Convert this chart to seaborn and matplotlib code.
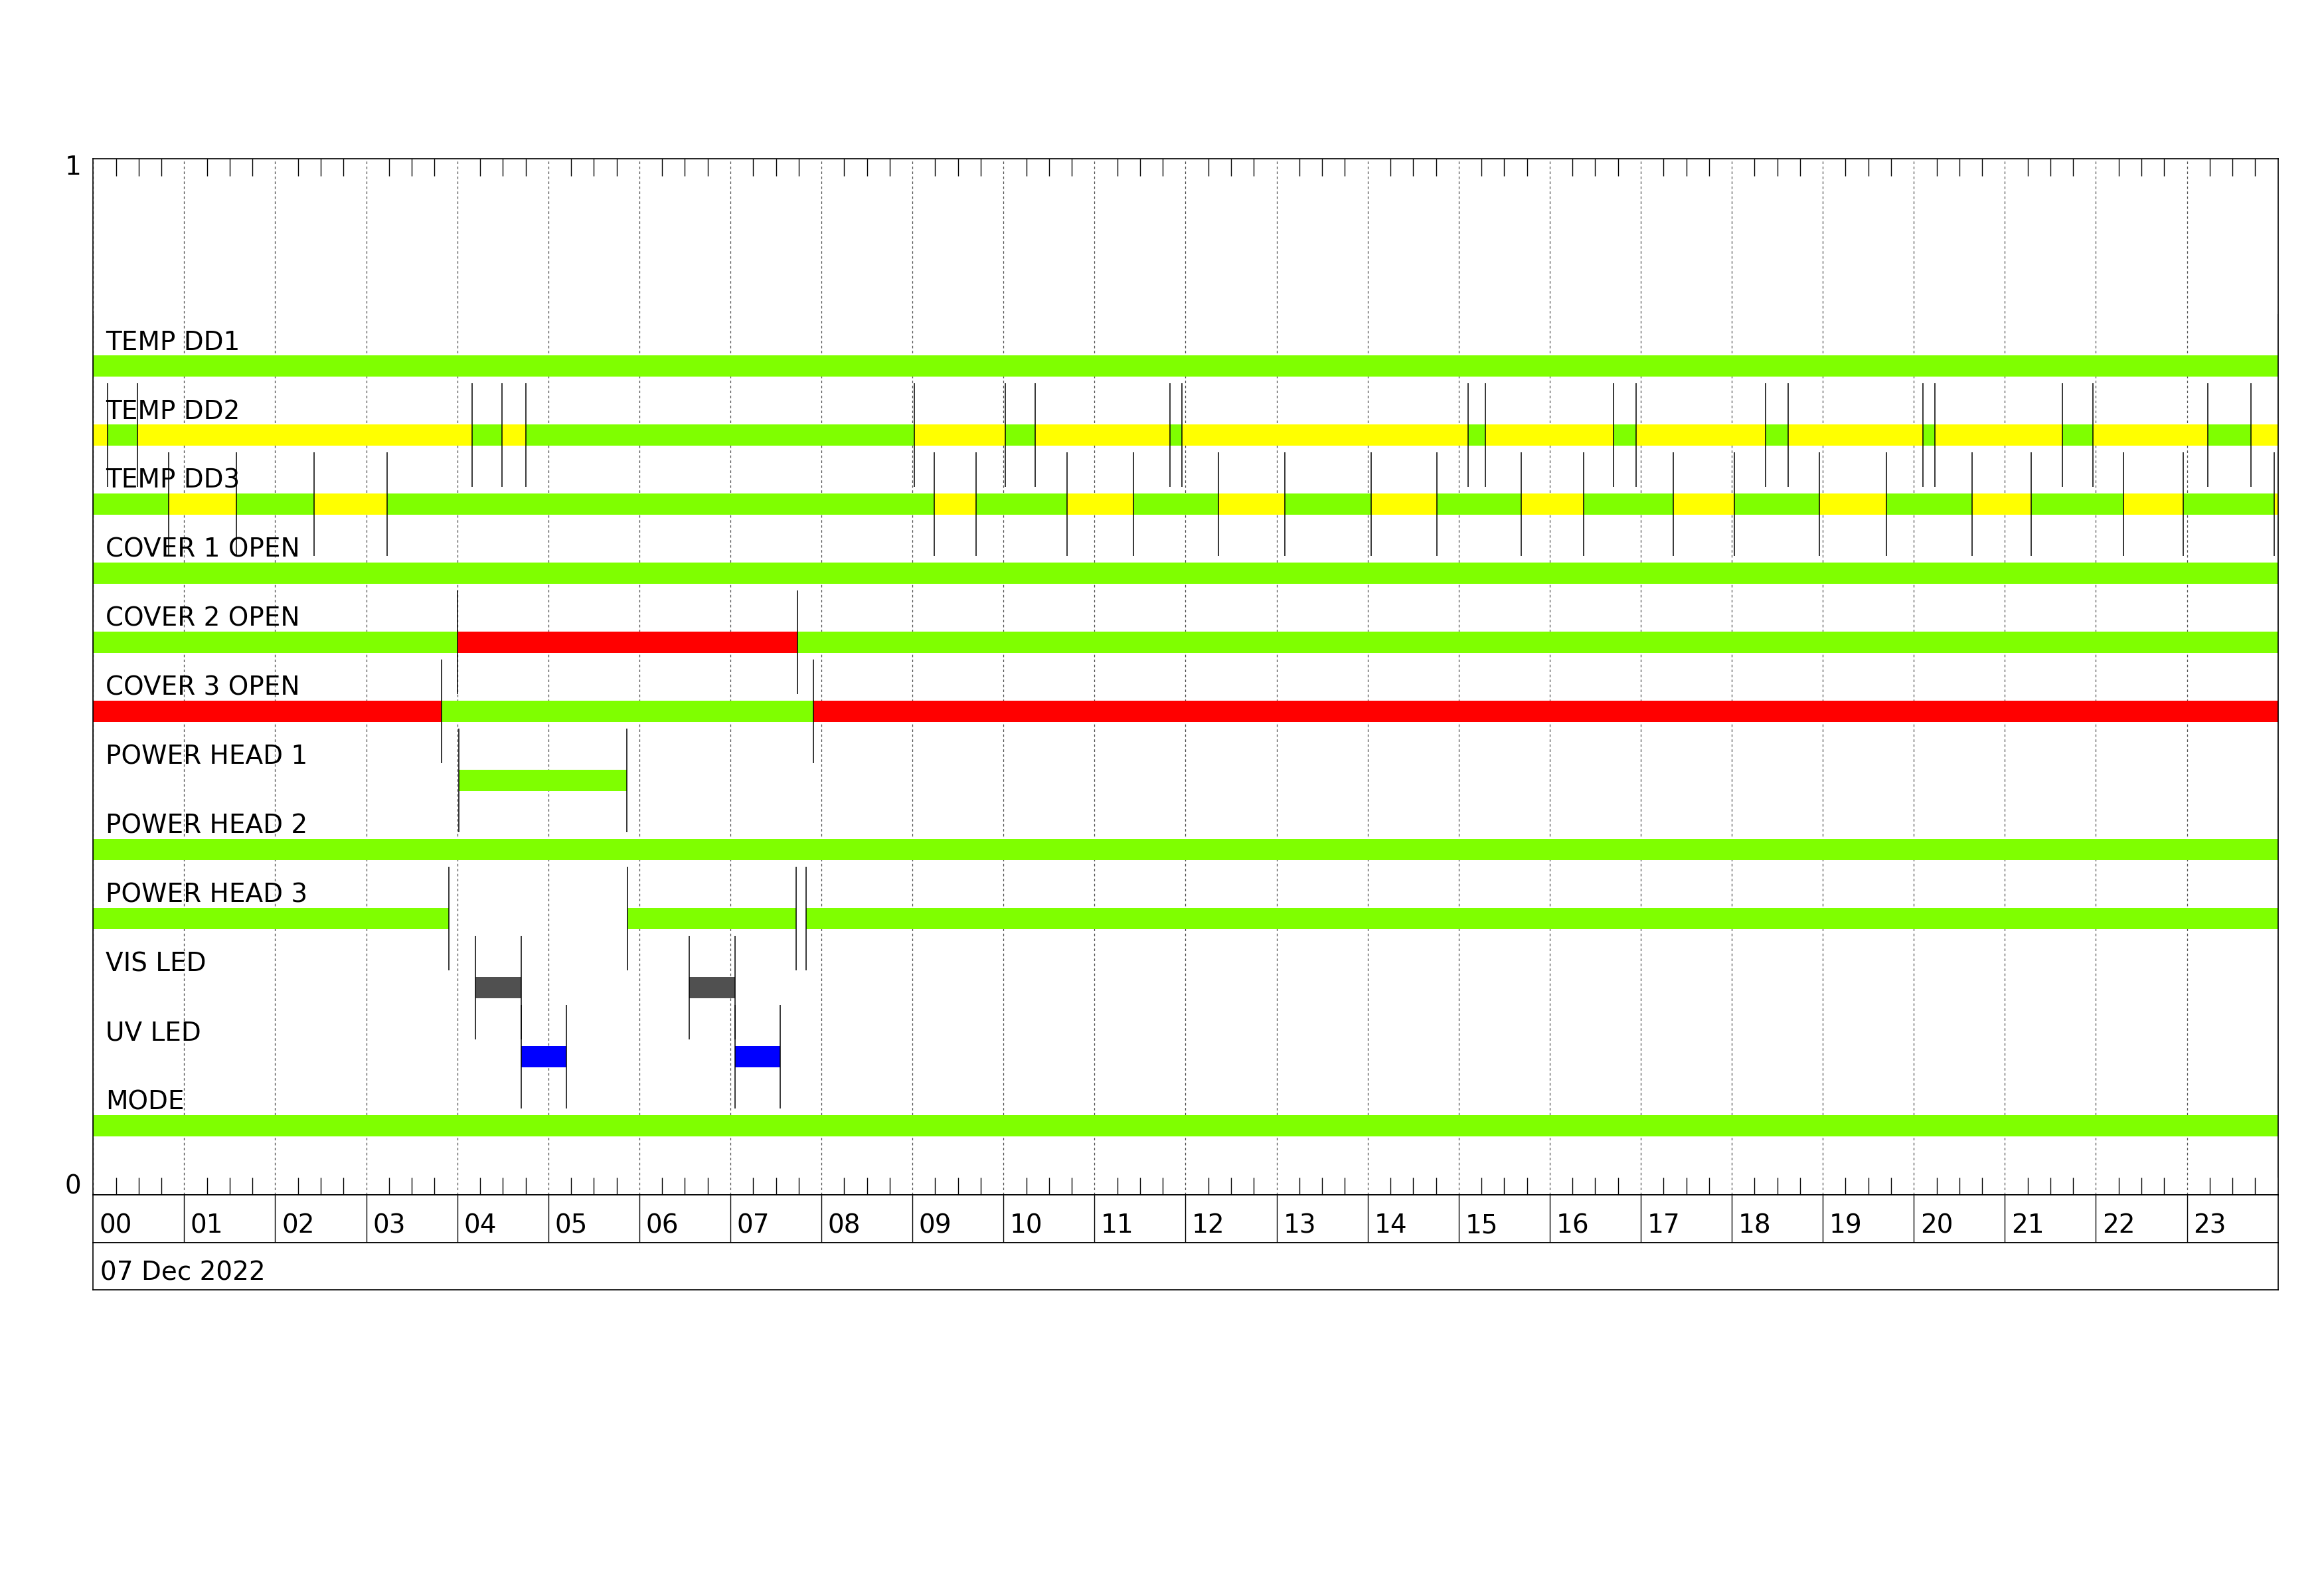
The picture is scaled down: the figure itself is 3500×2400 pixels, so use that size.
import numpy as np
import pandas as pd
import matplotlib
matplotlib.use("Agg")
import matplotlib.pyplot as plt
import seaborn as sns

# channel names, top to bottom
rows = ["TEMP DD1", "TEMP DD2", "TEMP DD3", "COVER 1 OPEN", "COVER 2 OPEN",
        "COVER 3 OPEN", "POWER HEAD 1", "POWER HEAD 2", "POWER HEAD 3",
        "VIS LED", "UV LED", "MODE"]

# state change times (hours of the day) and the state between them
# G=ok, Y=warning, R=alarm, K=vis on, B=uv on, ""=nothing
dd1_edges = [0, 24]
dd1_states = ["G"]
dd2_edges = [0, 0.16, 0.49, 4.16, 4.49, 4.75, 9.02, 10.02, 10.35, 11.83, 11.96,
             15.10, 15.29, 16.70, 16.95, 18.37, 18.62, 20.10, 20.23, 21.63,
             21.97, 23.23, 23.70, 24]
dd2_states = ["Y", "G", "Y", "G", "Y", "G", "Y", "G", "Y", "G", "Y", "G",
              "Y", "G", "Y", "G", "Y", "G", "Y", "G", "Y", "G", "Y"]
dd3_edges = [0, 0.83, 1.57, 2.43, 3.23, 9.24, 9.70, 10.70, 11.43, 12.36, 13.09,
             14.04, 14.76, 15.69, 16.37, 17.36, 18.03, 18.96, 19.70, 20.64,
             21.29, 22.30, 22.96, 23.96, 24]
dd3_states = ["G", "Y", "G", "Y", "G", "Y", "G", "Y", "G", "Y", "G", "Y",
              "G", "Y", "G", "Y", "G", "Y", "G", "Y", "G", "Y", "G", "Y"]
cov1_edges = [0, 24]
cov1_states = ["G"]
cov2_edges = [0, 4.00, 7.74, 24]
cov2_states = ["G", "R", "G"]
cov3_edges = [0, 3.83, 7.91, 24]
cov3_states = ["R", "G", "R"]
ph1_edges = [0, 4.02, 5.86, 24]
ph1_states = ["", "G", ""]
ph2_edges = [0, 24]
ph2_states = ["G"]
ph3_edges = [0, 3.91, 5.87, 7.72, 7.83, 24]
ph3_states = ["G", "", "G", "", "G"]
vis_edges = [0, 4.20, 4.70, 6.55, 7.05, 24]
vis_states = ["", "K", "", "K", ""]
uv_edges = [0, 4.70, 5.20, 7.05, 7.55, 24]
uv_states = ["", "B", "", "B", ""]
mode_edges = [0, 24]
mode_states = ["G"]

hour_labels = ["%02d" % h for h in range(24)]
date_label = "07 Dec 2022"

palette = {"G": "#7fff00", "Y": "#ffff00", "R": "#ff0000",
           "K": "#505050", "B": "#0000ff"}

edges = dict(zip(rows, [dd1_edges, dd2_edges, dd3_edges, cov1_edges, cov2_edges,
                        cov3_edges, ph1_edges, ph2_edges, ph3_edges, vis_edges,
                        uv_edges, mode_edges]))
states = dict(zip(rows, [dd1_states, dd2_states, dd3_states, cov1_states,
                         cov2_states, cov3_states, ph1_states, ph2_states,
                         ph3_states, vis_states, uv_states, mode_states]))

recs = []
for i, name in enumerate(rows):
    ypos = (len(rows) - i) / 15
    e = edges[name]
    for a, b, st in zip(e[:-1], e[1:], states[name]):
        recs.append(dict(row=name, y=ypos, start=a, end=b, state=st))
seg = pd.DataFrame(recs)

sns.set_theme(style="white")
plt.rcParams["font.family"] = ["DejaVu Sans"]
plt.rcParams["text.color"] = "black"
FS = 28

fig = plt.figure(figsize=(35, 24), dpi=100)
L, W = 140.3 / 3500, (3430.7 - 140.3) / 3500
ax = fig.add_axes([L, 1 - 1799 / 2400, W, (1799 - 239) / 2400])

on = seg[seg["state"] != ""]
ax.barh(on["y"], on["end"] - on["start"], left=on["start"], height=0.02,
        color=on["state"].map(palette), linewidth=0, zorder=2)

# thin markers at every state change
for name in rows:
    ypos = seg.loc[seg["row"] == name, "y"].iloc[0]
    ax.vlines(edges[name], ypos - 0.05, ypos + 0.05, color="black", lw=1.1, zorder=3)
    ax.text(0.14, ypos + 0.0155, name, va="baseline", ha="left", fontsize=FS, zorder=4)

ax.set_xlim(0, 24)
ax.set_ylim(0, 1)
ax.set_xticks(np.arange(25))
ax.set_xticks([h + q for h in range(24) for q in (0.25, 0.5, 0.75)], minor=True)
ax.set_yticks([])
ax.tick_params(which="major", length=0, labelbottom=False)
ax.tick_params(which="minor", direction="in", length=19, width=1,
               top=True, bottom=True, color="black")
ax.grid(True, axis="x", which="major", color="0.3", linestyle=(0, (3, 3)), lw=0.9)
ax.set_axisbelow(True)
for s in ax.spines.values():
    s.set_color("black")
    s.set_linewidth(1.2)
ax.text(-0.0055, 1.004, "1", transform=ax.transAxes, ha="right", va="top", fontsize=FS)
ax.text(-0.0055, 0.001, "0", transform=ax.transAxes, ha="right", va="baseline", fontsize=FS)

# hour band
axh = fig.add_axes([L, 1 - 1870.5 / 2400, W, 71.5 / 2400])
axh.set_xlim(0, 24)
axh.set_ylim(0, 1)
axh.vlines(range(1, 24), 0, 1, color="black", lw=1)
for h, lab in enumerate(hour_labels):
    axh.text(h + 0.07, 0.2, lab, va="baseline", ha="left", fontsize=FS)
axh.set_xticks([])
axh.set_yticks([])

# date band
axd = fig.add_axes([L, 1 - 1942 / 2400, W, 71.5 / 2400])
axd.set_xlim(0, 24)
axd.set_ylim(0, 1)
axd.text(0.08, 0.2, date_label, va="baseline", ha="left", fontsize=FS)
axd.set_xticks([])
axd.set_yticks([])

for a in (axh, axd):
    for s in a.spines.values():
        s.set_color("black")
        s.set_linewidth(1.2)

fig.savefig("out.png", dpi=100, facecolor="white")
